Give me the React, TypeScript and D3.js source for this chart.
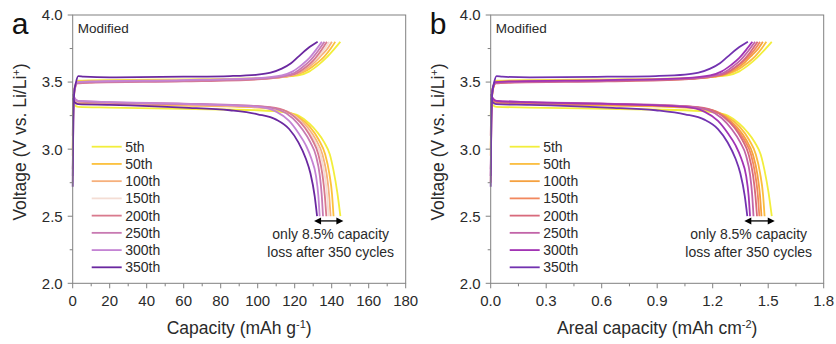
import React from "react";
import * as d3 from "d3";

const cycles = ["5th", "50th", "100th", "150th", "200th", "250th", "300th", "350th"];
const colorsA = ["#f2ee3c", "#fcc13c", "#f6b07c", "#f4ddd4", "#d97a8e", "#c87ab2", "#c484d4", "#6a28a0"];
const colorsB = ["#f2ee3c", "#fbbd3e", "#f5a140", "#f2885e", "#d86a7c", "#c264a8", "#a234b4", "#7232b0"];

// Discharge curves [capacity mAh/g, voltage V]
const discharge5 = [[0, 3.36], [1, 3.33], [3, 3.315], [20, 3.31], [60, 3.3], [100, 3.29], [115, 3.275], [122, 3.25], [128, 3.19], [132, 3.13], [136, 3.05], [139, 2.96], [141, 2.84], [143, 2.68], [144.7, 2.5]];
const discharge50 = [[0, 3.39], [1, 3.36], [3, 3.34], [20, 3.335], [60, 3.325], [100, 3.31], [115, 3.28], [122, 3.24], [128, 3.17], [133, 3.07], [136.5, 2.96], [138.7, 2.82], [140.2, 2.66], [141, 2.5]];
const discharge100 = [[0, 3.4], [1, 3.37], [3, 3.35], [20, 3.34], [60, 3.33], [100, 3.315], [114, 3.29], [121, 3.24], [127, 3.16], [131.5, 3.07], [135, 2.96], [137.2, 2.82], [138.6, 2.66], [139.4, 2.5]];
const discharge150 = [[0, 3.4], [1, 3.37], [3, 3.355], [20, 3.345], [60, 3.335], [100, 3.318], [113.5, 3.29], [120.5, 3.24], [126, 3.16], [130.5, 3.07], [134, 2.96], [136.1, 2.82], [137.5, 2.66], [138.3, 2.5]];
const discharge200 = [[0, 3.41], [1, 3.38], [3, 3.355], [20, 3.345], [60, 3.335], [100, 3.32], [112, 3.3], [120, 3.24], [125.5, 3.16], [129.5, 3.07], [132.8, 2.96], [135, 2.81], [136.3, 2.65], [137.1, 2.5]];
const discharge250 = [[0, 3.41], [1, 3.38], [3, 3.36], [20, 3.35], [60, 3.34], [100, 3.32], [112, 3.29], [119, 3.23], [124, 3.15], [128.5, 3.05], [131.5, 2.95], [133.5, 2.81], [134.6, 2.66], [135.3, 2.5]];
const discharge300 = [[0, 3.41], [1, 3.38], [3, 3.36], [20, 3.35], [60, 3.338], [100, 3.315], [110, 3.28], [117, 3.21], [122, 3.12], [126, 3.03], [129, 2.93], [131.5, 2.8], [132.8, 2.65], [133.5, 2.5]];
const discharge350 = [[0, 3.38], [1, 3.35], [3, 3.335], [20, 3.33], [60, 3.31], [85, 3.29], [100, 3.26], [110, 3.22], [117, 3.15], [122, 3.05], [126, 2.93], [128.5, 2.82], [130.8, 2.65], [132.1, 2.5]];

// Charge curves [capacity mAh/g, voltage V]
const charge5 = [[0, 3.25], [0.5, 3.4], [1.5, 3.48], [3, 3.51], [20, 3.515], [60, 3.52], [100, 3.53], [115, 3.54], [122, 3.55], [128, 3.58], [133, 3.63], [137, 3.68], [141, 3.74], [144.7, 3.8]];
const charge50 = [[0, 3.0], [0.4, 3.33], [1.2, 3.46], [3, 3.505], [20, 3.51], [60, 3.515], [100, 3.525], [115, 3.54], [121, 3.555], [127, 3.59], [132, 3.64], [136, 3.69], [139.5, 3.75], [141.9, 3.8]];
const charge100 = [[0, 2.95], [0.4, 3.32], [1.2, 3.45], [3, 3.5], [20, 3.505], [60, 3.51], [100, 3.522], [115, 3.54], [121, 3.56], [126.5, 3.6], [131, 3.65], [134.5, 3.7], [137.8, 3.75], [140.1, 3.8]];
const charge150 = [[0, 2.75], [0.4, 3.3], [1.2, 3.45], [3, 3.5], [20, 3.505], [60, 3.512], [100, 3.525], [115, 3.545], [121, 3.565], [126, 3.61], [130.5, 3.66], [134, 3.71], [136.8, 3.76], [138.6, 3.8]];
const charge200 = [[0, 3.1], [0.4, 3.35], [1, 3.45], [2.5, 3.49], [10, 3.495], [60, 3.505], [100, 3.52], [115, 3.545], [121, 3.565], [126, 3.61], [130, 3.66], [133.5, 3.72], [137.4, 3.8]];
const charge250 = [[0, 2.85], [0.4, 3.3], [1, 3.44], [2.5, 3.495], [10, 3.5], [60, 3.51], [100, 3.525], [114, 3.545], [120, 3.57], [125, 3.62], [129, 3.67], [132.5, 3.73], [136.1, 3.8]];
const charge300 = [[0, 2.8], [0.4, 3.3], [1, 3.45], [2.5, 3.5], [10, 3.505], [60, 3.515], [100, 3.53], [113, 3.55], [119, 3.58], [124, 3.63], [128, 3.68], [131.5, 3.74], [134.7, 3.8]];
const charge350 = [[0, 2.72], [0.3, 3.2], [0.8, 3.42], [1.8, 3.5], [3, 3.545], [6, 3.54], [20, 3.535], [60, 3.54], [85, 3.545], [100, 3.555], [107, 3.57], [113, 3.6], [118, 3.64], [122, 3.69], [127, 3.75], [132.4, 3.8]];

const dischargeCurves = [discharge5, discharge50, discharge100, discharge150, discharge200, discharge250, discharge300, discharge350];
const chargeCurves = [charge5, charge50, charge100, charge150, charge200, charge250, charge300, charge350];

// Areal loading (mg cm^-2 of active material) converting mAh g^-1 to mAh cm^-2
const massLoading = 10.5;

const yTicks = [2.0, 2.5, 3.0, 3.5, 4.0];
const yMinor = [2.25, 2.75, 3.25, 3.75];
const xTicksA = [0, 20, 40, 60, 80, 100, 120, 140, 160, 180];
const xTicksB = [0, 0.3, 0.6, 0.9, 1.2, 1.5, 1.8];

const FONT = "'Liberation Sans', Arial, sans-serif";
const AXIS = "#808080";
const TXT = "#2a2a2a";

type PanelProps = {
  left: number;
  letter: string;
  xMax: number;
  xTicks: number[];
  fmt: (v: number) => string;
  factor: number;
  colors: string[];
  title: React.ReactNode;
};

function Panel({ left, letter, xMax, xTicks, fmt, factor, colors, title }: PanelProps) {
  const top = 15, bottom = 283.3, width = 333;
  const x = d3.scaleLinear().domain([0, xMax]).range([left, left + width]);
  const y = d3.scaleLinear().domain([2, 4]).range([bottom, top]);
  const line = d3
    .line<number[]>()
    .x((d) => x(d[0] * factor))
    .y((d) => y(d[1]))
    .curve(d3.curveMonotoneX);
  const step = xTicks[1] - xTicks[0];
  const xMinor = xTicks.slice(0, -1).map((t) => t + step / 2);
  const ends = dischargeCurves.map((c) => c[c.length - 1][0] * factor);
  const aMin = x(d3.min(ends) as number) - 3;
  const aMax = x(d3.max(ends) as number) + 3;
  const aY = y(2.465);
  const tx = left + 258;
  const legendX = left + 19;
  return (
    <g fontFamily={FONT}>
      <text x={left - 61} y={33.5} fontSize={30} fill="#111">{letter}</text>
      {/* curves */}
      {cycles.map((c, i) => (
        <g key={c}>
          <path d={line(chargeCurves[i] as number[][]) || ""} fill="none" stroke={colors[i]} strokeWidth={1.8} />
          <path d={line(dischargeCurves[i] as number[][]) || ""} fill="none" stroke={colors[i]} strokeWidth={1.8} />
        </g>
      ))}
      {/* frame */}
      <rect x={left} y={top} width={width} height={bottom - top} fill="none" stroke={AXIS} strokeWidth={1} />
      {yTicks.map((t) => (
        <g key={"y" + t}>
          <line x1={left} x2={left - 5} y1={y(t)} y2={y(t)} stroke={AXIS} />
          <text x={left - 10} y={y(t)} dy="0.36em" textAnchor="end" fontSize={15} fill={TXT}>{t.toFixed(1)}</text>
        </g>
      ))}
      {yMinor.map((t) => (
        <line key={"ym" + t} x1={left} x2={left - 3} y1={y(t)} y2={y(t)} stroke={AXIS} />
      ))}
      {xTicks.map((t) => (
        <g key={"x" + t}>
          <line x1={x(t)} x2={x(t)} y1={bottom} y2={bottom + 5} stroke={AXIS} />
          <text x={x(t)} y={305.5} textAnchor="middle" fontSize={15} fill={TXT}>{fmt(t)}</text>
        </g>
      ))}
      {xMinor.map((t) => (
        <line key={"xm" + t} x1={x(t)} x2={x(t)} y1={bottom} y2={bottom + 3} stroke={AXIS} />
      ))}
      <text x={left + 5} y={33.3} fontSize={13.5} fill={TXT}>Modified</text>
      {/* legend */}
      {cycles.map((c, i) => (
        <g key={"l" + c}>
          <line x1={legendX} x2={legendX + 30} y1={146.7 + i * 17.23} y2={146.7 + i * 17.23} stroke={colors[i]} strokeWidth={1.8} />
          <text x={legendX + 33.5} y={146.7 + i * 17.23} dy="0.36em" fontSize={14} fill={TXT}>{c}</text>
        </g>
      ))}
      {/* annotation */}
      <line x1={aMin + 5} x2={aMax - 5} y1={aY} y2={aY} stroke="#000" strokeWidth={1.3} />
      <path d={`M${aMin},${aY} L${aMin + 7},${aY - 3.5} L${aMin + 7},${aY + 3.5} Z`} fill="#000" />
      <path d={`M${aMax},${aY} L${aMax - 7},${aY - 3.5} L${aMax - 7},${aY + 3.5} Z`} fill="#000" />
      <text x={tx} y={239} textAnchor="middle" fontSize={14} fill={TXT}>only 8.5% capacity</text>
      <text x={tx} y={256.5} textAnchor="middle" fontSize={14} fill={TXT}>loss after 350 cycles</text>
      {/* titles */}
      <text transform={`translate(${left - 46.5},142) rotate(-90)`} textAnchor="middle" fontSize={17.5} fill={TXT}>
        Voltage (V vs. Li/Li<tspan baselineShift="super" fontSize={11}>+</tspan>)
      </text>
      <text x={left + width / 2} y={334} textAnchor="middle" fontSize={17.5} fill={TXT}>{title}</text>
    </g>
  );
}

export default function App() {
  return (
    <svg width={836} height={344} style={{ display: "block", position: "absolute", left: 0, top: 0 }}>
      <rect width={836} height={344} fill="#fff" />
      <Panel
        left={72.7}
        letter="a"
        xMax={180}
        xTicks={xTicksA}
        fmt={(v) => String(v)}
        factor={1}
        colors={colorsA}
        title={<>Capacity (mAh g<tspan baselineShift="super" fontSize={11}>-1</tspan>)</>}
      />
      <Panel
        left={490.7}
        letter="b"
        xMax={1.8}
        xTicks={xTicksB}
        fmt={(v) => v.toFixed(1)}
        factor={massLoading / 1000}
        colors={colorsB}
        title={<>Areal capacity (mAh cm<tspan baselineShift="super" fontSize={11}>-2</tspan>)</>}
      />
    </svg>
  );
}
